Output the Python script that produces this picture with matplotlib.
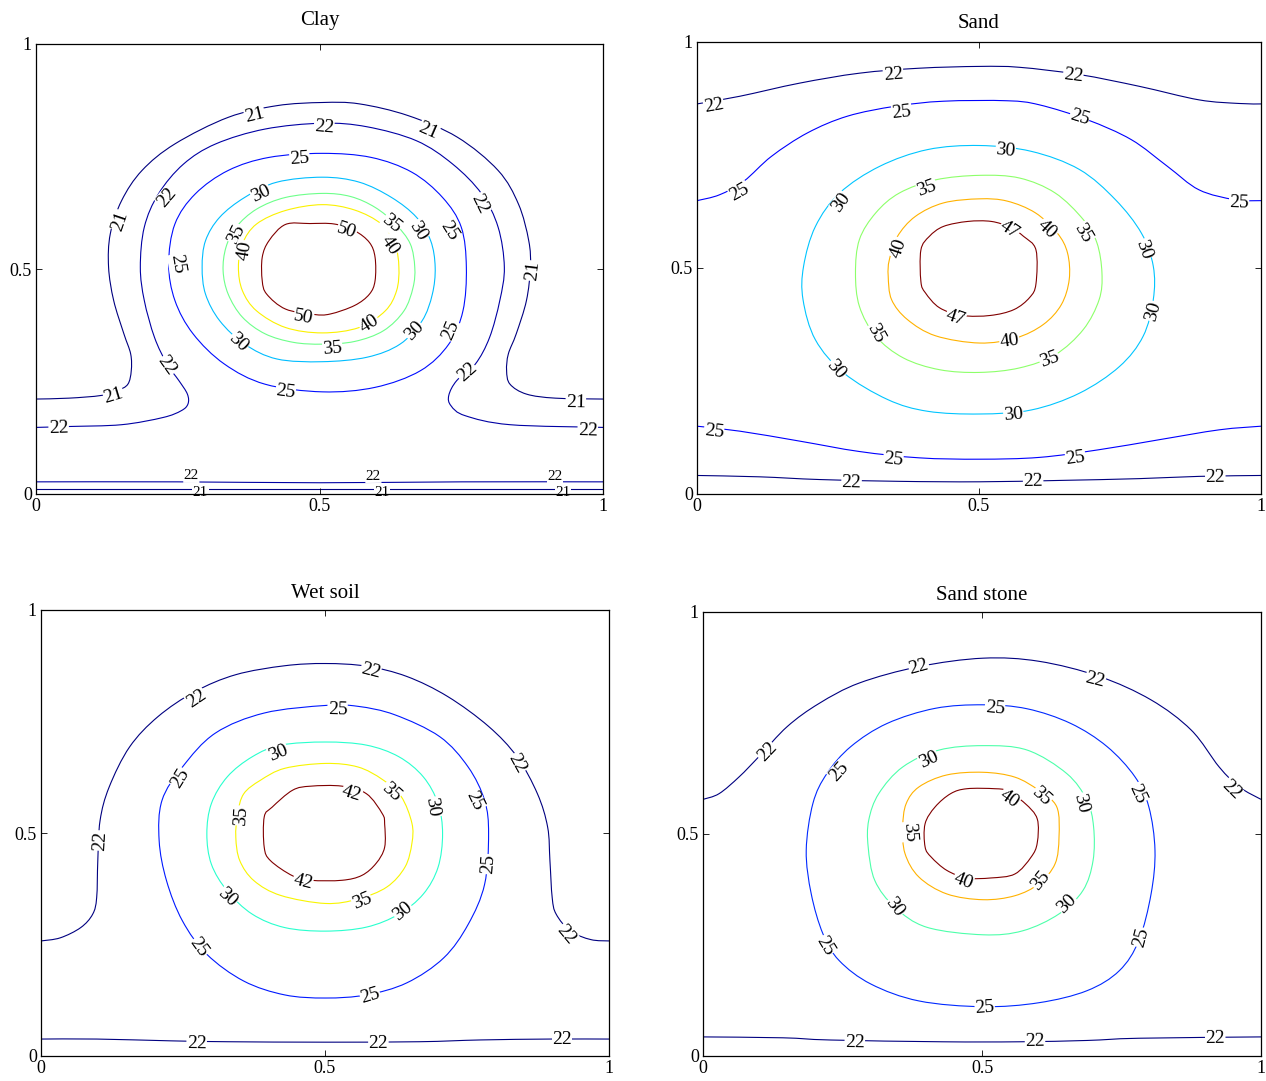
import math
import numpy as np
import matplotlib
matplotlib.use("Agg")
import matplotlib.pyplot as plt
from matplotlib.path import Path
from matplotlib.patches import PathPatch

plt.rcParams['font.family'] = ['Liberation Serif', 'DejaVu Serif']

# ---------------- Clay ----------------
clay_50 = [(0.44, 0.599), (0.483, 0.601), (0.526, 0.6), (0.562, 0.585), (0.588, 0.559),
           (0.598, 0.526), (0.598, 0.474), (0.588, 0.444), (0.562, 0.419), (0.519, 0.4),
           (0.49, 0.399), (0.44, 0.411), (0.407, 0.444), (0.399, 0.474), (0.399, 0.526),
           (0.411, 0.563)]
clay_40 = [(0.505, 0.643), (0.44, 0.63), (0.389, 0.6), (0.364, 0.556), (0.357, 0.504),
           (0.364, 0.452), (0.389, 0.407), (0.44, 0.37), (0.505, 0.358), (0.57, 0.37),
           (0.616, 0.407), (0.636, 0.452), (0.64, 0.504), (0.633, 0.556), (0.609, 0.6),
           (0.562, 0.631)]
clay_35 = [(0.505, 0.668), (0.44, 0.659), (0.389, 0.633), (0.353, 0.593), (0.335, 0.548),
           (0.33, 0.496), (0.339, 0.444), (0.364, 0.393), (0.404, 0.356), (0.454, 0.337),
           (0.505, 0.333), (0.562, 0.339), (0.613, 0.363), (0.649, 0.407), (0.665, 0.459),
           (0.668, 0.504), (0.66, 0.556), (0.634, 0.6), (0.598, 0.637), (0.555, 0.661)]
clay_30 = [(0.505, 0.704), (0.425, 0.693), (0.368, 0.659), (0.324, 0.615), (0.299, 0.563),
           (0.293, 0.504), (0.299, 0.444), (0.324, 0.385), (0.368, 0.333), (0.425, 0.3),
           (0.505, 0.294), (0.584, 0.304), (0.642, 0.333), (0.681, 0.385), (0.699, 0.444),
           (0.704, 0.504), (0.696, 0.563), (0.671, 0.615), (0.627, 0.659), (0.57, 0.693)]
clay_25 = [(0.505, 0.757), (0.411, 0.748), (0.339, 0.719), (0.281, 0.667), (0.245, 0.6),
           (0.234, 0.511), (0.245, 0.43), (0.277, 0.356), (0.332, 0.289), (0.404, 0.244),
           (0.505, 0.227), (0.598, 0.237), (0.678, 0.274), (0.728, 0.333), (0.753, 0.407),
           (0.759, 0.504), (0.75, 0.593), (0.717, 0.659), (0.663, 0.715), (0.591, 0.748)]
clay_22 = [(0, 0.148), (0.058, 0.15), (0.151, 0.154), (0.224, 0.17), (0.256, 0.185),
           (0.268, 0.2), (0.267, 0.222), (0.252, 0.252), (0.231, 0.289), (0.209, 0.348),
           (0.191, 0.43), (0.184, 0.504), (0.191, 0.593), (0.216, 0.667), (0.26, 0.733),
           (0.317, 0.778), (0.404, 0.811), (0.505, 0.824), (0.584, 0.816), (0.671, 0.785),
           (0.735, 0.733), (0.786, 0.667), (0.815, 0.593), (0.826, 0.504), (0.818, 0.43),
           (0.8, 0.348), (0.775, 0.289), (0.742, 0.252), (0.728, 0.219), (0.732, 0.196),
           (0.757, 0.174), (0.836, 0.154), (1, 0.148)]
clay_21 = [(0, 0.211), (0.058, 0.213), (0.115, 0.219), (0.144, 0.23), (0.162, 0.244),
           (0.168, 0.274), (0.167, 0.311), (0.155, 0.356), (0.137, 0.43), (0.128, 0.504),
           (0.131, 0.578), (0.151, 0.652), (0.187, 0.719), (0.245, 0.778), (0.339, 0.837),
           (0.425, 0.863), (0.505, 0.87), (0.57, 0.867), (0.656, 0.841), (0.743, 0.793),
           (0.815, 0.719), (0.851, 0.644), (0.869, 0.563), (0.872, 0.504), (0.865, 0.43),
           (0.847, 0.356), (0.833, 0.311), (0.83, 0.274), (0.836, 0.244), (0.865, 0.222),
           (0.916, 0.213), (1, 0.211)]
clay_22_low = [(0, 0.027), (0.25, 0.027), (0.5, 0.025), (0.75, 0.027), (1, 0.027)]
clay_21_low = [(0, 0.01), (1, 0.01)]

clay_lines = [(21, clay_21), (21, clay_21_low), (22, clay_22), (22, clay_22_low),
              (25, clay_25), (30, clay_30), (35, clay_35), (40, clay_40), (50, clay_50)]
clay_labels = [(21, 0.386, 0.841), (21, 0.692, 0.807), (21, 0.148, 0.607), (21, 0.876, 0.496),
               (21, 0.137, 0.219), (21, 0.952, 0.203),
               (22, 0.508, 0.815), (22, 0.231, 0.659), (22, 0.782, 0.644), (22, 0.231, 0.285),
               (22, 0.761, 0.27), (22, 0.04, 0.146), (22, 0.973, 0.14),
               (25, 0.465, 0.744), (25, 0.249, 0.511), (25, 0.728, 0.585), (25, 0.732, 0.363),
               (25, 0.44, 0.226),
               (30, 0.397, 0.667), (30, 0.674, 0.585), (30, 0.667, 0.363), (30, 0.357, 0.337),
               (35, 0.353, 0.578), (35, 0.627, 0.6), (35, 0.523, 0.322),
               (40, 0.368, 0.541), (40, 0.624, 0.552), (40, 0.588, 0.378),
               (50, 0.548, 0.585), (50, 0.472, 0.393)]
# the two bottom lines carry their labels stacked one over the other
clay_low_labels = [(21, 0.29, 0.004), (21, 0.61, 0.004), (21, 0.93, 0.004),
                   (22, 0.274, 0.04), (22, 0.595, 0.04), (22, 0.916, 0.04)]

# ---------------- Sand ----------------
sand_47 = [(0.437, 0.592), (0.48, 0.603), (0.522, 0.603), (0.555, 0.59), (0.579, 0.57),
           (0.601, 0.54), (0.601, 0.465), (0.59, 0.435), (0.562, 0.408), (0.52, 0.395),
           (0.47, 0.395), (0.43, 0.412), (0.405, 0.445), (0.397, 0.47), (0.397, 0.54),
           (0.412, 0.57)]
sand_40 = [(0.501, 0.653), (0.437, 0.644), (0.387, 0.614), (0.355, 0.569), (0.341, 0.518),
           (0.339, 0.482), (0.345, 0.43), (0.373, 0.386), (0.423, 0.35), (0.501, 0.334),
           (0.565, 0.345), (0.614, 0.375), (0.646, 0.419), (0.66, 0.475), (0.657, 0.533),
           (0.639, 0.577), (0.6, 0.622), (0.55, 0.648)]
sand_35 = [(0.501, 0.705), (0.423, 0.695), (0.359, 0.666), (0.317, 0.622), (0.288, 0.563),
           (0.281, 0.489), (0.288, 0.415), (0.317, 0.349), (0.366, 0.301), (0.43, 0.275),
           (0.501, 0.269), (0.572, 0.279), (0.635, 0.308), (0.685, 0.364), (0.713, 0.43),
           (0.718, 0.489), (0.709, 0.556), (0.685, 0.607), (0.635, 0.666), (0.572, 0.699)]
sand_30 = [(0.501, 0.771), (0.409, 0.762), (0.324, 0.725), (0.253, 0.666), (0.21, 0.592),
           (0.189, 0.504), (0.188, 0.43), (0.21, 0.341), (0.26, 0.268), (0.338, 0.209),
           (0.409, 0.183), (0.501, 0.177), (0.593, 0.186), (0.678, 0.223), (0.749, 0.282),
           (0.791, 0.349), (0.809, 0.43), (0.809, 0.504), (0.788, 0.577), (0.742, 0.651),
           (0.678, 0.718), (0.593, 0.758)]
sand_25_top = [(0, 0.649), (0.04, 0.662), (0.083, 0.692), (0.132, 0.747), (0.196, 0.799),
               (0.267, 0.836), (0.352, 0.858), (0.437, 0.869), (0.55, 0.87), (0.607, 0.861),
               (0.692, 0.828), (0.77, 0.784), (0.834, 0.725), (0.89, 0.673), (0.954, 0.651),
               (1, 0.649)]
sand_22_top = [(0, 0.863), (0.076, 0.88), (0.182, 0.909), (0.288, 0.931), (0.394, 0.942),
               (0.501, 0.946), (0.572, 0.944), (0.678, 0.928), (0.784, 0.902), (0.89, 0.872),
               (0.961, 0.864), (1, 0.863)]
sand_25_low = [(0, 0.15), (0.076, 0.139), (0.182, 0.117), (0.288, 0.094), (0.394, 0.08),
               (0.501, 0.077), (0.607, 0.081), (0.713, 0.098), (0.819, 0.12), (0.926, 0.142),
               (1, 0.15)]
sand_22_low = [(0, 0.041), (0.111, 0.038), (0.217, 0.032), (0.359, 0.028), (0.501, 0.027),
               (0.642, 0.03), (0.784, 0.034), (0.89, 0.039), (1, 0.041)]

sand_lines = [(22, sand_22_top), (22, sand_22_low), (25, sand_25_top), (25, sand_25_low),
              (30, sand_30), (35, sand_35), (40, sand_40), (47, sand_47)]
sand_labels = [(22, 0.348, 0.928), (22, 0.667, 0.926), (22, 0.03, 0.858), (22, 0.274, 0.026),
               (22, 0.596, 0.028), (22, 0.919, 0.036),
               (25, 0.363, 0.844), (25, 0.678, 0.832), (25, 0.076, 0.667), (25, 0.961, 0.644),
               (25, 0.03, 0.139), (25, 0.348, 0.077), (25, 0.671, 0.08),
               (30, 0.547, 0.76), (30, 0.256, 0.644), (30, 0.791, 0.541), (30, 0.809, 0.404),
               (30, 0.246, 0.275), (30, 0.561, 0.176),
               (35, 0.408, 0.677), (35, 0.685, 0.577), (35, 0.317, 0.356), (35, 0.625, 0.297),
               (40, 0.358, 0.544), (40, 0.621, 0.585), (40, 0.554, 0.338),
               (47, 0.554, 0.585), (47, 0.458, 0.389)]

# ---------------- Wet soil ----------------
wet_42 = [(0.443, 0.596), (0.475, 0.605), (0.53, 0.605), (0.573, 0.588), (0.601, 0.543),
          (0.605, 0.52), (0.605, 0.468), (0.59, 0.432), (0.565, 0.405), (0.53, 0.394),
          (0.475, 0.394), (0.443, 0.404), (0.404, 0.438), (0.393, 0.468), (0.393, 0.536),
          (0.407, 0.558)]
wet_35 = [(0.501, 0.656), (0.429, 0.645), (0.386, 0.618), (0.357, 0.588), (0.346, 0.543),
          (0.343, 0.49), (0.35, 0.438), (0.375, 0.393), (0.422, 0.36), (0.501, 0.342),
          (0.558, 0.352), (0.609, 0.379), (0.641, 0.424), (0.653, 0.477), (0.653, 0.522),
          (0.634, 0.582), (0.601, 0.62), (0.558, 0.648)]
wet_30 = [(0.501, 0.704), (0.422, 0.697), (0.372, 0.671), (0.328, 0.626), (0.3, 0.566),
          (0.292, 0.498), (0.3, 0.43), (0.328, 0.37), (0.372, 0.318), (0.429, 0.288),
          (0.501, 0.28), (0.573, 0.289), (0.63, 0.318), (0.673, 0.363), (0.699, 0.423),
          (0.707, 0.498), (0.699, 0.566), (0.673, 0.626), (0.63, 0.671), (0.573, 0.697)]
wet_25 = [(0.501, 0.786), (0.393, 0.769), (0.307, 0.724), (0.249, 0.648), (0.213, 0.573),
          (0.208, 0.483), (0.221, 0.393), (0.249, 0.303), (0.292, 0.228), (0.357, 0.168),
          (0.429, 0.137), (0.501, 0.13), (0.573, 0.137), (0.644, 0.164), (0.709, 0.22),
          (0.752, 0.295), (0.781, 0.385), (0.788, 0.498), (0.781, 0.573), (0.752, 0.648),
          (0.702, 0.716), (0.623, 0.765), (0.558, 0.784)]
wet_22 = [(0, 0.258), (0.034, 0.265), (0.07, 0.288), (0.091, 0.318), (0.098, 0.355),
          (0.1, 0.438), (0.104, 0.528), (0.12, 0.603), (0.156, 0.693), (0.206, 0.761),
          (0.271, 0.817), (0.343, 0.855), (0.429, 0.875), (0.501, 0.88), (0.573, 0.874),
          (0.644, 0.851), (0.716, 0.806), (0.788, 0.739), (0.838, 0.671), (0.874, 0.588),
          (0.892, 0.513), (0.896, 0.438), (0.9, 0.355), (0.907, 0.318), (0.932, 0.28),
          (0.968, 0.261), (1, 0.258)]
wet_22_low = [(0, 0.038), (0.098, 0.038), (0.228, 0.034), (0.328, 0.032), (0.501, 0.031),
              (0.666, 0.032), (0.774, 0.036), (0.896, 0.038), (1, 0.038)]

wet_lines = [(22, wet_22), (22, wet_22_low), (25, wet_25), (30, wet_30), (35, wet_35), (42, wet_42)]
wet_labels = [(22, 0.58, 0.862), (22, 0.274, 0.802), (22, 0.838, 0.656), (22, 0.105, 0.483),
              (22, 0.925, 0.273), (22, 0.274, 0.027), (22, 0.594, 0.029), (22, 0.917, 0.036),
              (25, 0.522, 0.776), (25, 0.246, 0.622), (25, 0.764, 0.573), (25, 0.788, 0.43),
              (25, 0.278, 0.243), (25, 0.58, 0.134),
              (30, 0.418, 0.68), (30, 0.688, 0.558), (30, 0.328, 0.355), (30, 0.637, 0.325),
              (35, 0.352, 0.539), (35, 0.616, 0.592), (35, 0.565, 0.348),
              (42, 0.547, 0.588), (42, 0.461, 0.391)]

# ---------------- Sand stone ----------------
stone_40 = [(0.444, 0.591), (0.473, 0.602), (0.523, 0.602), (0.545, 0.597), (0.577, 0.569),
            (0.599, 0.534), (0.599, 0.48), (0.588, 0.448), (0.559, 0.41), (0.516, 0.401),
            (0.473, 0.401), (0.437, 0.418), (0.409, 0.448), (0.398, 0.471), (0.398, 0.523),
            (0.416, 0.561)]
stone_35 = [(0.502, 0.639), (0.437, 0.633), (0.387, 0.606), (0.364, 0.568), (0.358, 0.516),
            (0.362, 0.456), (0.387, 0.403), (0.437, 0.365), (0.502, 0.352), (0.559, 0.361),
            (0.602, 0.388), (0.631, 0.433), (0.638, 0.493), (0.634, 0.561), (0.602, 0.598),
            (0.559, 0.628)]
stone_30 = [(0.502, 0.699), (0.423, 0.689), (0.358, 0.651), (0.315, 0.591), (0.297, 0.531),
            (0.296, 0.471), (0.308, 0.395), (0.344, 0.335), (0.401, 0.29), (0.502, 0.273),
            (0.573, 0.282), (0.638, 0.32), (0.681, 0.373), (0.699, 0.44), (0.7, 0.516),
            (0.688, 0.576), (0.652, 0.636), (0.581, 0.689)]
stone_25 = [(0.502, 0.791), (0.416, 0.783), (0.33, 0.749), (0.265, 0.697), (0.222, 0.636),
            (0.197, 0.569), (0.185, 0.463), (0.194, 0.365), (0.215, 0.275), (0.244, 0.215),
            (0.301, 0.162), (0.387, 0.124), (0.502, 0.111), (0.602, 0.12), (0.688, 0.147),
            (0.746, 0.192), (0.781, 0.26), (0.803, 0.365), (0.81, 0.463), (0.799, 0.561),
            (0.774, 0.629), (0.724, 0.697), (0.659, 0.749), (0.581, 0.782)]
stone_22_top = [(0, 0.578), (0.029, 0.591), (0.065, 0.629), (0.1, 0.674), (0.151, 0.742),
                (0.208, 0.794), (0.28, 0.84), (0.387, 0.877), (0.502, 0.896), (0.602, 0.889),
                (0.71, 0.855), (0.803, 0.802), (0.875, 0.734), (0.925, 0.651), (0.961, 0.606),
                (1, 0.578)]
stone_22_low = [(0, 0.043), (0.143, 0.041), (0.229, 0.036), (0.43, 0.032), (0.566, 0.032),
                (0.688, 0.035), (0.781, 0.04), (1, 0.043)]

stone_lines = [(22, stone_22_top), (22, stone_22_low), (25, stone_25), (30, stone_30),
               (35, stone_35), (40, stone_40)]
stone_labels = [(22, 0.387, 0.876), (22, 0.703, 0.847), (22, 0.115, 0.685), (22, 0.946, 0.599),
                (22, 0.272, 0.03), (22, 0.595, 0.034), (22, 0.918, 0.04),
                (25, 0.523, 0.783), (25, 0.244, 0.64), (25, 0.778, 0.591), (25, 0.785, 0.267),
                (25, 0.219, 0.248), (25, 0.505, 0.108),
                (30, 0.405, 0.667), (30, 0.677, 0.569), (30, 0.344, 0.335), (30, 0.652, 0.343),
                (35, 0.369, 0.505), (35, 0.606, 0.584), (35, 0.606, 0.395),
                (40, 0.548, 0.578), (40, 0.466, 0.394)]

titles = ['Clay', 'Sand', 'Wet soil', 'Sand stone']
all_lines = [clay_lines, sand_lines, wet_lines, stone_lines]
all_labels = [clay_labels, sand_labels, wet_labels, stone_labels]

# axes rectangles (pixels)
W, H = 1266, 1081
boxes = [(36, 44, 603, 494), (697, 42, 1261, 494), (41, 610, 609, 1056), (703, 612, 1261, 1056)]
title_pads = [14, 10, 9, 9]


def seg_dist(q, a, b):
    ab = b - a
    t = np.clip(np.dot(q - a, ab) / max(np.dot(ab, ab), 1e-9), 0, 1)
    return np.linalg.norm(q - (a + t * ab))


def is_loop(pts):
    # curves that do not run from the left to the right edge are loops
    return not (pts[0][0] == 0 and pts[-1][0] == 1)


def smooth_path(pts, loop):
    # cubic Bezier path through the read points (Catmull-Rom tangents)
    p = np.array(pts, dtype=float)
    n = len(p)
    if loop:
        ext = np.vstack([p[-1], p, p[0], p[1]])
        segs = n
    else:
        ext = np.vstack([p[0], p, p[-1]])
        segs = n - 1
    verts = [ext[1]]
    codes = [Path.MOVETO]
    for k in range(segs):
        p0, p1, p2, p3 = ext[k], ext[k + 1], ext[k + 2], ext[k + 3]
        verts += [p1 + (p2 - p0) / 6, p2 - (p3 - p1) / 6, p2]
        codes += [Path.CURVE4] * 3
    return Path(verts, codes)


def put_label(ax, curves, lv, lx, ly, size):
    q = ax.transData.transform((lx, ly))
    best = None
    for cl, p in curves:
        if cl != lv:
            continue
        pp = ax.transData.transform(p)
        for a, b in zip(pp[:-1], pp[1:]):
            d = seg_dist(q, a, b)
            if best is None or d < best[0]:
                best = (d, a, b)
    a, b = best[1], best[2]
    ang = math.degrees(math.atan2(b[1] - a[1], b[0] - a[0]))
    if ang > 90:
        ang -= 180
    if ang < -90:
        ang += 180
    ax.text(lx, ly, str(lv), rotation=ang, rotation_mode='anchor', ha='center',
            va='center', fontsize=size, zorder=2,
            bbox=dict(facecolor='white', edgecolor='none', pad=0.3))


fig = plt.figure(figsize=(W / 100, H / 100), dpi=100)
jet = plt.get_cmap('jet')

for i in range(4):
    x0, y0, x1, y1 = boxes[i]
    ax = fig.add_axes([x0 / W, 1 - y1 / H, (x1 - x0) / W, (y1 - y0) / H])
    ax.set_xlim(0, 1)
    ax.set_ylim(0, 1)

    levels = [lv for lv, _ in all_lines[i]]
    lo, hi = min(levels), max(levels)
    curves = []
    for lv, pts in all_lines[i]:
        loop = is_loop(pts)
        p = np.array(pts + [pts[0]]) if loop else np.array(pts)
        curves.append((lv, p))
        ax.add_patch(PathPatch(smooth_path(pts, loop), fill=False,
                               edgecolor=jet((lv - lo) / (hi - lo)), lw=0.8, zorder=1))

    for lv, lx, ly in all_labels[i]:
        put_label(ax, curves, lv, lx, ly, 14)
    if i == 0:
        for lv, lx, ly in clay_low_labels:
            put_label(ax, curves, lv, lx, ly, 11)

    ax.set_xticks([0, 0.5, 1])
    ax.set_yticks([0, 0.5, 1])
    ax.set_xticklabels(['0', '0.5', '1'])
    ax.set_yticklabels(['0', '0.5', '1'])
    ax.tick_params(direction='in', top=True, right=True, length=4, width=0.6,
                   labelsize=13, pad=3)
    for s in ax.spines.values():
        s.set_linewidth(0.9)
        s.set_zorder(3)
    ax.set_title(titles[i], fontsize=15, pad=title_pads[i])

fig.savefig('out.png', dpi=100, facecolor='white')
